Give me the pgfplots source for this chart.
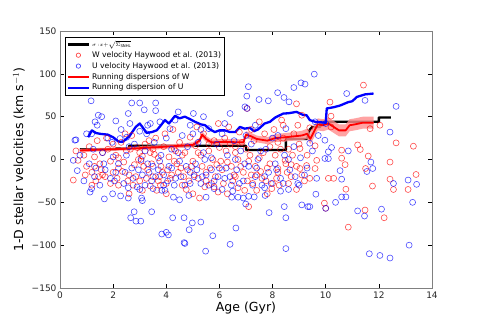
\documentclass[border=0pt]{standalone}
\usepackage{fontspec}
\setmainfont{DejaVu Sans}
\usepackage{pgfplots}
\usepackage{pgfplotstable}
\pgfplotsset{compat=1.18}
\pgfplotsset{
 lineleg/.style={legend image code/.code={\draw[##1] (0pt,0pt) -- (21pt,0pt);}},
 markleg/.style={legend image code/.code={\draw[mark repeat=2,mark phase=2,##1] plot coordinates {(0pt,0pt) (10.5pt,0pt) (21pt,0pt)};}},
}

\pgfplotstableread{
age v
0.5 -24
0.6 10
0.68 -1
0.9 5
0.95 -18
1.0 -8
1.1 15
1.2 -15
1.2 -30
1.3 3
1.35 -25
1.4 22
1.5 -5
1.55 -12
1.6 8
1.7 -20
1.75 25
1.8 12
1.9 -2
2.0 18
2.1 5
2.15 -22
2.2 -10
2.3 20
2.4 -3
2.45 30
2.5 10
2.6 -40
2.6 -18
2.7 28
2.75 -30
2.8 -6
2.9 14
3.0 -25
3.05 -2
3.1 -36
3.1 4
3.2 18
3.3 -12
3.35 22
3.4 -31
3.4 8
3.5 -20
3.55 6
3.6 25
3.64 -36
3.7 2
3.8 -8
3.85 -15
3.9 15
3.95 30
4.0 -28
4.1 3
4.2 -18
4.25 35
4.3 12
4.4 -5
4.5 20
4.55 -10
4.6 -30
4.7 8
4.8 -12
4.85 -25
4.9 26
5.0 -2
5.1 16
5.15 38
5.2 -22
5.25 -45
5.3 5
5.4 30
5.45 -32
5.5 -15
5.6 10
5.7 -28
5.75 0
5.8 22
5.85 -20
5.9 -6
5.95 -38
5.96 42
6.0 14
6.1 -12
6.2 25
6.3 -3
6.35 38
6.4 18
6.5 -25
6.55 -18
6.6 8
6.7 -33
6.75 32
6.8 -8
6.85 20
6.95 -36
7.0 12
7.04 59.6
7.1 -55
7.1 -2
7.2 -18
7.25 -28
7.3 22
7.4 -36
7.4 -18
7.5 44
7.5 2
7.6 -22
7.65 8
7.7 30
7.8 -10
7.9 15
7.97 -34
8.0 -28
8.05 35
8.1 5
8.2 -15
8.2 -10.5
8.25 -30
8.34 46
8.4 40
8.4 25
8.47 -1
8.5 -5
8.6 12
8.6 -28
8.7 -20
8.7 -6
8.8 30
8.9 65
8.9 -8
9.0 18
9.03 12.8
9.03 -10.5
9.1 51.7
9.2 -25
9.28 -7
9.3 5
9.4 -22
9.4 37
9.6 16
9.6 -10.5
9.66 -1
9.95 -51
10.0 -57
10.1 -22
10.16 67
10.2 50.6
10.2 38
10.3 -22
10.6 10.9
10.6 1.5
10.73 -6
10.76 -34.7
10.85 -79
11.2 17
11.3 11.7
11.42 86.8
11.48 -59
11.5 -10.5
11.6 4
11.67 36
11.76 -31
12.04 40
12.2 -68
12.42 -3
12.42 -23
12.55 -35
12.65 19.4
13.1 -35
13.3 15.5
13.4 -17.5
1.3 -8
1.6 -18
1.9 -28
2.2 2
2.35 -14
2.55 -25
2.65 12
2.85 -20
2.95 0
3.15 -8
3.25 -22
3.45 -5
3.5 12
3.75 -20
3.78 -30
4.05 -12
4.15 -22
4.3 -2
4.45 -15
4.6 5
4.65 -20
4.75 -35
4.95 -8
5.05 -18
5.2 8
5.35 -8
5.5 -25
5.65 -10
5.8 -32
6.05 -2
6.15 -28
6.25 10
6.45 -8
6.6 -20
6.7 0
6.9 -15
7.05 -25
7.15 5
7.35 -8
7.55 -14
7.75 -25
7.9 -5
8.15 -22
8.3 12
8.55 -15
8.75 5
9.1 -18
3.0 8
2.2 -30
4.0 -40
5.0 -40
6.3 -40
7.8 -40
8.9 -35
4.35 10
5.6 18
6.6 15
7.2 35
8.2 20
8.95 40
3.7 -25
2.0 -15
1.45 -20
}\Wdata

\pgfplotstableread{
age v
1.17 68.5
1.44 51.7
1.57 50
1.32 44
2.57 53.7
2.63 42
2.7 66
3.0 66
3.17 58
3.6 66
3.6 57
3.4 42
3.76 44
4.33 46
4.45 55.6
5.02 53.7
5.4 50
6.4 53.7
6.96 61.5
7.03 74
7.04 59.6
7.09 85
7.49 70
7.84 68.5
8.19 78
8.43 72.4
8.62 67.3
8.8 84
9.07 89.5
9.22 88
9.57 99.6
10.79 77
11.48 69
12.65 62
0.5 -1
0.56 22.5
0.6 23
0.65 -13
0.75 5
0.9 -25
1.0 30
1.1 -5
1.19 30
1.25 12
1.3 -20
1.4 40
1.5 -30
1.6 8
1.7 -12
1.8 25
1.9 -22
1.96 20
2.0 3
2.1 -15
2.26 24.5
2.3 35
2.4 -28
2.5 5
2.51 26
2.7 -10
2.8 18
2.9 -32
3.0 33
3.1 -18
3.2 10
3.26 30
3.3 -5
3.45 -25
3.55 20
3.7 -12
3.8 5
3.9 -30
4.0 25
4.1 -8
4.14 36
4.2 12
4.35 -22
4.5 -2
4.6 28
4.7 -30
4.8 15
4.9 -15
5.0 30
5.1 -5
5.2 20
5.3 -28
5.4 8
5.5 -18
5.6 36
5.7 2
5.8 -25
5.9 18
6.0 -10
6.1 30
6.2 -22
6.3 5
6.45 -30
6.55 22
6.65 -12
6.8 10
6.9 -25
7.0 28
7.1 -8
7.2 18
7.35 -20
7.45 0
7.6 -30
7.75 12
7.85 -15
8.0 25
8.1 -5
8.2 28
8.3 -22
8.45 5
8.5 36
8.65 -12
8.8 15
8.95 -28
9.05 2
9.2 -18
9.4 19
9.5 10
9.6 44
9.66 -22
9.72 28
9.97 22.5
9.97 1.2
10.0 42
10.1 1
10.1 9
10.22 14
10.54 -13
10.6 -23
10.85 10
11.55 -14
11.7 -3
11.77 -10.5
12.42 32
12.55 -28
13.1 -24
13.42 -29
1.19 -34
1.13 -38
1.67 -46
1.98 -40
2.28 -42.5
2.57 -45
2.57 -33
3.0 -35
3.07 -45
3.1 -48
3.5 -34
3.83 -36
3.95 -36
4.27 -44
4.5 -47
2.79 -61
2.66 -68
2.86 -72
3.04 -72
3.45 -61
4.24 -68
4.67 -68
3.83 -87
4.0 -85
4.08 -88
4.67 -97
4.98 -74
5.3 -73
4.86 -82
5.75 -89
4.7 -98
5.48 -107
6.62 -80
6.4 -99
6.99 -52
7.87 -62
8.44 -55
9.1 -53
9.33 -55
8.5 -68
8.5 -104
6.46 -44
6.7 -44
6.9 -45
7.1 -43
7.31 -43.7
7.72 -42
8.3 -37
8.6 -35
4.85 -42
5.5 -44
6.5 -37
7.7 -33
5.8 -34
9.63 -40.5
10.0 -57
10.37 -50
10.6 -43.7
10.76 -43.7
11.2 -60
11.46 -66
12.1 -58
13.27 -50
13.14 -100
11.64 -110
12.04 -112
12.42 -115
9.4 -55
1.35 -10
1.65 -5
2.05 -25
2.2 -5
2.45 -15
2.6 15
2.75 -22
2.95 -12
3.05 0
3.2 -30
3.35 -15
3.5 -8
3.6 -20
3.75 -2
3.9 -18
4.05 -25
4.2 -10
4.3 -30
4.45 8
4.55 -20
4.75 -8
4.9 -28
5.05 -20
5.15 -12
5.35 -20
5.45 0
5.6 -30
5.7 -12
5.95 -20
6.1 -35
6.25 -10
6.4 -20
6.6 0
6.75 -28
6.95 -5
7.25 -30
7.4 -10
7.55 10
7.7 -20
7.95 -28
8.15 -12
8.4 -28
8.6 0
8.85 -20
9.0 -30
9.3 -10
3.3 40
4.9 40
6.2 42
2.1 45
5.3 35
7.35 40
}\Udata

\begin{document}
\begin{tikzpicture}[x=1pt,y=1pt]
\path[use as bounding box] (-60,-32) rectangle (420,288);
\begin{axis}[
  at={(0pt,0pt)}, anchor=south west,
  scale only axis, width=372pt, height=257pt,
  xmin=0, xmax=14, ymin=-150, ymax=150,
  xtick={0,2,4,6,8,10,12,14},
  ytick={-150,-100,-50,0,50,100,150},
  yticklabels={−150,−100,−50,0,50,100,150},
  tick align=inside,
  major tick length=4pt,
  axis line style={gray},
  every tick/.style={black, line width=0.5pt},
  tick label style={font=\fontsize{9}{10}\selectfont, text=black!85},
  /pgf/number format/assume math mode=true,
  xlabel={Age (Gyr)},
  ylabel={1-D stellar velocities (km s$^{-1}$)},
  label style={font=\fontsize{12.5}{14}\selectfont},
  xlabel style={yshift=3pt},
  legend cell align=left,
  legend style={at={(0.0134,0.977)}, anchor=north west, draw=black, line width=0.5pt,
    font=\fontsize{7.7}{9}\selectfont, inner sep=1.5pt, row sep=-0.5pt, fill=white},
]
\addplot[forget plot, only marks, mark=o, mark size=3pt, red, mark options={line width=0.6pt, draw opacity=0.7}] table[x=age, y=v] {\Wdata};
\addplot[forget plot, only marks, mark=o, mark size=3pt, blue, mark options={line width=0.6pt, draw opacity=0.7}] table[x=age, y=v] {\Udata};
\addplot[forget plot, black, line width=2.3pt, line join=round] coordinates {
(0.75,12) (2.1,12) (2.1,13) (2.6,13) (2.6,16) (7.0,16) (7.0,11) (8.5,11) (8.5,24) (9.3,24) (9.4,35) (9.5,38) (9.8,38) (9.8,44) (12.0,44) (12.0,49) (12.45,49)};
\addplot[forget plot, draw=none, fill=red!45, fill opacity=0.8] coordinates {
(0.75,12.5) (1.5,13.5) (2.5,14.5) (3.5,16.5) (4.5,18.5) (5.0,20) (5.25,25) (5.35,33) (5.5,27.5) (5.7,23.5) (6.2,24) (6.9,23.5) (7.0,33) (7.2,31) (7.4,28) (7.8,26) (8.1,29.5) (8.5,31) (8.8,32) (9.1,33.5) (9.3,36) (9.42,30) (9.55,39) (9.7,48) (9.9,47) (10.1,49) (10.3,45) (10.5,41) (10.75,41) (10.9,47) (11.1,48) (11.4,50) (11.8,50)
(11.8,36) (11.4,36) (11.1,34) (10.9,33) (10.75,27) (10.5,27) (10.3,31) (10.1,35) (9.9,33) (9.7,34) (9.55,25) (9.42,18) (9.3,24) (9.1,22.5) (8.8,22) (8.5,21) (8.1,20.5) (7.8,18) (7.4,20) (7.2,23) (7.0,25) (6.9,16.5) (6.2,17) (5.7,16.5) (5.5,20.5) (5.35,25) (5.25,19) (5.0,14) (4.5,13.5) (3.5,11.5) (2.5,10.5) (1.5,9.5) (0.75,8.5)};
\addplot[forget plot, red, line width=1.8pt, line join=round] coordinates {
(0.75,10.5) (1.5,11.5) (2.5,12.5) (3.5,14) (4.5,16) (5.0,17) (5.25,22) (5.35,29) (5.5,24) (5.7,20) (6.2,20.5) (6.9,20) (7.0,29) (7.2,27) (7.4,24) (7.8,22) (8.1,25) (8.5,26) (8.8,27) (9.1,28) (9.3,30) (9.42,24) (9.55,32) (9.7,41) (9.9,40) (10.1,42) (10.3,38) (10.5,34) (10.75,34) (10.9,40) (11.1,41) (11.4,43) (11.8,43)};
\addplot[forget plot, blue, line width=2.3pt, line join=round] coordinates {
(1.06,26) (1.2,34) (1.35,31) (1.5,30) (1.8,29) (2.0,26) (2.2,21) (2.35,20.5) (2.5,24) (2.63,28) (2.85,38) (3.0,42) (3.1,38) (3.26,31) (3.45,32) (3.64,34) (3.8,40) (3.95,46) (4.1,42) (4.33,51) (4.5,48) (4.7,50) (4.9,47) (5.08,44) (5.3,41) (5.46,40) (5.65,35) (5.83,32) (6.0,34) (6.2,34) (6.4,32) (6.6,32) (6.77,38) (6.95,36) (7.15,37) (7.3,33) (7.45,35) (7.7,42) (7.9,44) (8.1,49) (8.4,53.6) (8.6,54) (8.9,55.6) (9.15,52) (9.28,51.7) (9.4,46) (9.6,44) (9.8,43.5) (10.0,42.8) (10.04,59.6) (10.3,61) (10.54,63) (10.85,67) (11.0,68) (11.17,73) (11.48,76) (11.8,77)};
\addlegendimage{black, line width=2.3pt, lineleg}
\addlegendentry{$\scriptscriptstyle\sigma\,:x+\sqrt{\Sigma_{\mathrm{SNHL}}}$}
\addlegendimage{only marks, mark=o, mark size=2.2pt, red, mark options={line width=0.6pt, draw opacity=0.8}, markleg}
\addlegendentry{W velocity Haywood et al. (2013)}
\addlegendimage{only marks, mark=o, mark size=2.2pt, blue, mark options={line width=0.6pt, draw opacity=0.8}, markleg}
\addlegendentry{U velocity Haywood et al. (2013)}
\addlegendimage{red, line width=2.3pt, lineleg}
\addlegendentry{Running dispersions of W}
\addlegendimage{blue, line width=2.3pt, lineleg}
\addlegendentry{Running dispersion of U}
\end{axis}
\end{tikzpicture}
\end{document}
